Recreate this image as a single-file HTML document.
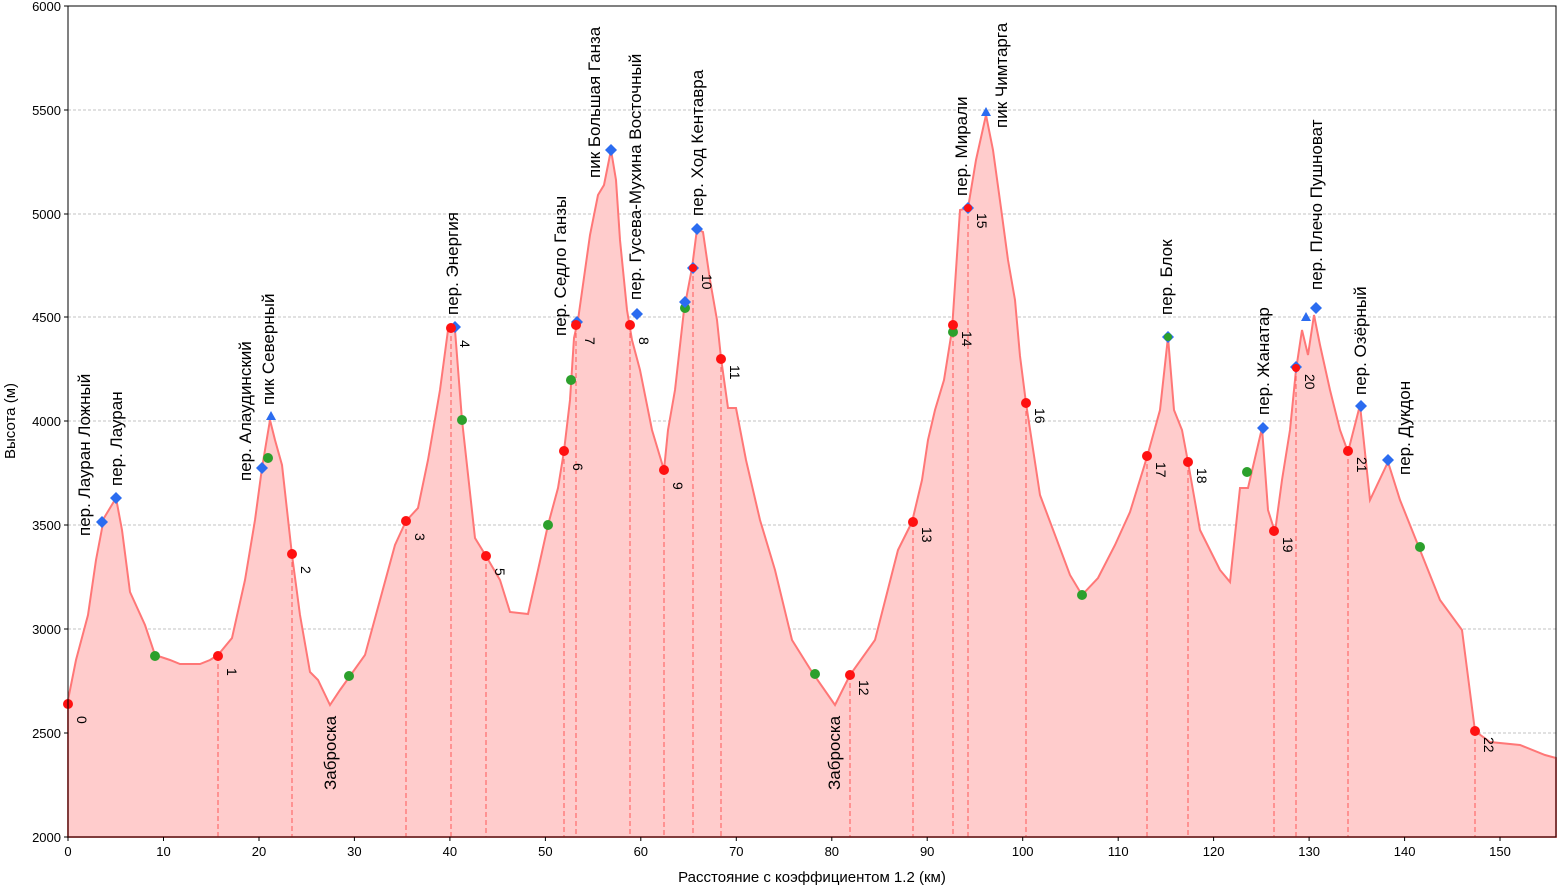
<!DOCTYPE html>
<html><head><meta charset="utf-8"><style>
html,body{margin:0;padding:0;background:#fff;}
svg{display:block;font-family:"Liberation Sans","DejaVu Sans",sans-serif;}
</style></head><body>
<svg width="1558" height="886" viewBox="0 0 1558 886" xmlns="http://www.w3.org/2000/svg">
<rect width="1558" height="886" fill="#fff"/>
<g stroke="#b0b0b0" stroke-width="0.8" stroke-dasharray="3,2">
<line x1="68" x2="1556" y1="733" y2="733"/><line x1="68" x2="1556" y1="629" y2="629"/>
<line x1="68" x2="1556" y1="525" y2="525"/><line x1="68" x2="1556" y1="421" y2="421"/>
<line x1="68" x2="1556" y1="317" y2="317"/><line x1="68" x2="1556" y1="214" y2="214"/>
<line x1="68" x2="1556" y1="110" y2="110"/>
</g>
<path fill="#ffcccc" stroke="#f77" stroke-width="2" d="M68,837 L68,700 L76,660 L88,615 L96,560 L104,518 L116,498 L122,530 L130,592 L145,625 L155,655 L170,660 L180,664 L200,664 L210,660 L218,655 L232,638 L245,580 L255,520 L262,468 L270,420 L275,440 L282,465 L292,555 L300,615 L310,672 L318,680 L330,705 L340,690 L350,676 L365,655 L380,600 L395,545 L406,521 L418,508 L428,460 L440,390 L448,330 L455,330 L462,420 L475,538 L486,556 L500,580 L510,612 L528,614 L538,570 L548,525 L558,488 L564,451 L570,400 L574,338 L578,320 L590,235 L598,195 L604,185 L611,150 L616,180 L620,240 L627,310 L632,340 L640,370 L652,430 L664,470 L668,430 L675,390 L684,310 L692,268 L697,229 L703,232 L710,280 L717,320 L721,358 L728,408 L736,408 L746,460 L760,520 L775,570 L792,640 L812,672 L835,705 L850,675 L875,640 L898,550 L912,522 L922,480 L928,440 L935,410 L944,380 L952,330 L960,210 L968,208 L976,160 L986,115 L993,150 L1001,208 L1008,260 L1015,300 L1020,356 L1026,403 L1040,495 L1070,575 L1082,595 L1098,578 L1115,545 L1130,512 L1147,457 L1160,410 L1168,337 L1174,410 L1182,430 L1188,462 L1200,530 L1220,570 L1230,582 L1240,488 L1248,488 L1255,458 L1262,428 L1268,510 L1275,532 L1282,480 L1290,430 L1296,370 L1302,330 L1308,355 L1314,315 L1320,345 L1330,390 L1340,430 L1348,452 L1360,405 L1370,500 L1388,462 L1400,500 L1420,550 L1440,600 L1462,630 L1475,731 L1490,742 L1520,745 L1545,755 L1556,758 L1556,837 Z"/>
<g stroke="#f55" stroke-width="1.2" stroke-dasharray="5,3" opacity="0.8">
<line x1="218" x2="218" y1="656" y2="837"/><line x1="292" x2="292" y1="554" y2="837"/>
<line x1="406" x2="406" y1="521" y2="837"/><line x1="451" x2="451" y1="328" y2="837"/>
<line x1="486" x2="486" y1="556" y2="837"/><line x1="564" x2="564" y1="451" y2="837"/>
<line x1="576" x2="576" y1="325" y2="837"/><line x1="630" x2="630" y1="325" y2="837"/>
<line x1="664" x2="664" y1="470" y2="837"/><line x1="693" x2="693" y1="268" y2="837"/>
<line x1="721" x2="721" y1="359" y2="837"/><line x1="850" x2="850" y1="675" y2="837"/>
<line x1="913" x2="913" y1="522" y2="837"/><line x1="953" x2="953" y1="325" y2="837"/>
<line x1="968" x2="968" y1="208" y2="837"/><line x1="1026" x2="1026" y1="403" y2="837"/>
<line x1="1147" x2="1147" y1="456" y2="837"/><line x1="1188" x2="1188" y1="462" y2="837"/>
<line x1="1274" x2="1274" y1="531" y2="837"/><line x1="1296" x2="1296" y1="368" y2="837"/>
<line x1="1348" x2="1348" y1="451" y2="837"/><line x1="1475" x2="1475" y1="731" y2="837"/>
</g>
<g fill="#2ca02c">
<circle cx="155" cy="656" r="5"/><circle cx="268" cy="458" r="5"/><circle cx="349" cy="676" r="5"/>
<circle cx="462" cy="420" r="5"/><circle cx="548" cy="525" r="5"/><circle cx="571" cy="380" r="5"/>
<circle cx="685" cy="308" r="5"/><circle cx="815" cy="674" r="5"/><circle cx="953" cy="332" r="5"/>
<circle cx="1082" cy="595" r="5"/><circle cx="1247" cy="472" r="5"/><circle cx="1420" cy="547" r="5"/>
</g>
<g fill="#2b6cf0">
<path d="M102,516 l6,6 -6,6 -6,-6z"/><path d="M116,492 l6,6 -6,6 -6,-6z"/><path d="M262,462 l6,6 -6,6 -6,-6z"/>
<path d="M455,321 l6,6 -6,6 -6,-6z"/><path d="M577,316 l6,6 -6,6 -6,-6z"/><path d="M637,308 l6,6 -6,6 -6,-6z"/>
<path d="M685,296 l6,6 -6,6 -6,-6z"/><path d="M697,223 l6,6 -6,6 -6,-6z"/><path d="M693,262 l6,6 -6,6 -6,-6z"/>
<path d="M611,144 l6,6 -6,6 -6,-6z"/><path d="M968,202 l6,6 -6,6 -6,-6z"/><path d="M1168,331 l6,6 -6,6 -6,-6z"/>
<path d="M1263,422 l6,6 -6,6 -6,-6z"/><path d="M1296,361 l6,6 -6,6 -6,-6z"/><path d="M1316,302 l6,6 -6,6 -6,-6z"/>
<path d="M1361,400 l6,6 -6,6 -6,-6z"/><path d="M1388,454 l6,6 -6,6 -6,-6z"/>
<path d="M271,411 l5,9 -10,0z"/><path d="M986,107 l5,9 -10,0z"/><path d="M1306,312 l5,9 -10,0z"/>
</g>
<g fill="#2ca02c"><circle cx="1168" cy="337" r="4"/></g>
<g fill="#f11">
<circle cx="68" cy="704" r="5"/><circle cx="218" cy="656" r="5"/><circle cx="292" cy="554" r="5"/>
<circle cx="406" cy="521" r="5"/><circle cx="451" cy="328" r="5"/><circle cx="486" cy="556" r="5"/>
<circle cx="564" cy="451" r="5"/><circle cx="576" cy="325" r="5"/><circle cx="630" cy="325" r="5"/>
<circle cx="664" cy="470" r="5"/><circle cx="693" cy="268" r="4"/><circle cx="721" cy="359" r="5"/>
<circle cx="850" cy="675" r="5"/><circle cx="913" cy="522" r="5"/><circle cx="953" cy="325" r="5"/>
<circle cx="968" cy="208" r="4"/><circle cx="1026" cy="403" r="5"/><circle cx="1147" cy="456" r="5"/>
<circle cx="1188" cy="462" r="5"/><circle cx="1274" cy="531" r="5"/><circle cx="1296" cy="368" r="4"/>
<circle cx="1348" cy="451" r="5"/><circle cx="1475" cy="731" r="5"/>
</g>
<g font-size="14" fill="#000">
<text transform="translate(77,716) rotate(90)">0</text>
<text transform="translate(227,668) rotate(90)">1</text>
<text transform="translate(301,566) rotate(90)">2</text>
<text transform="translate(415,533) rotate(90)">3</text>
<text transform="translate(460,340) rotate(90)">4</text>
<text transform="translate(495,568) rotate(90)">5</text>
<text transform="translate(573,463) rotate(90)">6</text>
<text transform="translate(585,337) rotate(90)">7</text>
<text transform="translate(639,337) rotate(90)">8</text>
<text transform="translate(673,482) rotate(90)">9</text>
<text transform="translate(702,274) rotate(90)">10</text>
<text transform="translate(730,365) rotate(90)">11</text>
<text transform="translate(859,680) rotate(90)">12</text>
<text transform="translate(922,527) rotate(90)">13</text>
<text transform="translate(962,331) rotate(90)">14</text>
<text transform="translate(977,213) rotate(90)">15</text>
<text transform="translate(1035,408) rotate(90)">16</text>
<text transform="translate(1156,462) rotate(90)">17</text>
<text transform="translate(1197,468) rotate(90)">18</text>
<text transform="translate(1283,537) rotate(90)">19</text>
<text transform="translate(1305,374) rotate(90)">20</text>
<text transform="translate(1357,457) rotate(90)">21</text>
<text transform="translate(1484,737) rotate(90)">22</text>
</g>
<g font-size="17" fill="#000">
<text transform="translate(90,536) rotate(-90)">пер. Лауран Ложный</text>
<text transform="translate(122,486) rotate(-90)">пер. Лауран</text>
<text transform="translate(251,481) rotate(-90)">пер. Алаудинский</text>
<text transform="translate(274,405) rotate(-90)">пик Северный</text>
<text transform="translate(336,790) rotate(-90)">Заброска</text>
<text transform="translate(458,315) rotate(-90)">пер. Энергия</text>
<text transform="translate(566,336) rotate(-90)">пер. Седло Ганзы</text>
<text transform="translate(600,178) rotate(-90)">пик Большая Ганза</text>
<text transform="translate(641,300) rotate(-90)">пер. Гусева-Мухина Восточный</text>
<text transform="translate(703,216) rotate(-90)">пер. Ход Кентавра</text>
<text transform="translate(840,790) rotate(-90)">Заброска</text>
<text transform="translate(967,196) rotate(-90)">пер. Мирали</text>
<text transform="translate(1007,128) rotate(-90)">пик Чимтарга</text>
<text transform="translate(1172,315) rotate(-90)">пер. Блок</text>
<text transform="translate(1269,415) rotate(-90)">пер. Жанатар</text>
<text transform="translate(1322,290) rotate(-90)">пер. Плечо Пушноват</text>
<text transform="translate(1366,395) rotate(-90)">пер. Озёрный</text>
<text transform="translate(1410,475) rotate(-90)">пер. Дукдон</text>
</g>
<rect x="68" y="6" width="1488" height="831" fill="none" stroke="#000" stroke-width="1"/>
<g stroke="#000" stroke-width="1">
<line x1="68" x2="68" y1="837" y2="841"/><line x1="163.5" x2="163.5" y1="837" y2="841"/><line x1="259" x2="259" y1="837" y2="841"/>
<line x1="354.4" x2="354.4" y1="837" y2="841"/><line x1="449.9" x2="449.9" y1="837" y2="841"/><line x1="545.4" x2="545.4" y1="837" y2="841"/>
<line x1="640.8" x2="640.8" y1="837" y2="841"/><line x1="736.3" x2="736.3" y1="837" y2="841"/><line x1="831.8" x2="831.8" y1="837" y2="841"/>
<line x1="927.2" x2="927.2" y1="837" y2="841"/><line x1="1022.7" x2="1022.7" y1="837" y2="841"/><line x1="1118.2" x2="1118.2" y1="837" y2="841"/>
<line x1="1213.6" x2="1213.6" y1="837" y2="841"/><line x1="1309.1" x2="1309.1" y1="837" y2="841"/><line x1="1404.6" x2="1404.6" y1="837" y2="841"/>
<line x1="1500" x2="1500" y1="837" y2="841"/>
<line x1="64" x2="68" y1="837" y2="837"/><line x1="64" x2="68" y1="733" y2="733"/><line x1="64" x2="68" y1="629" y2="629"/>
<line x1="64" x2="68" y1="525" y2="525"/><line x1="64" x2="68" y1="421" y2="421"/><line x1="64" x2="68" y1="317" y2="317"/>
<line x1="64" x2="68" y1="214" y2="214"/><line x1="64" x2="68" y1="110" y2="110"/><line x1="64" x2="68" y1="6" y2="6"/>
</g>
<g font-size="13" text-anchor="middle" fill="#000">
<text x="68" y="856">0</text><text x="163.5" y="856">10</text><text x="259" y="856">20</text><text x="354.4" y="856">30</text>
<text x="449.9" y="856">40</text><text x="545.4" y="856">50</text><text x="640.8" y="856">60</text><text x="736.3" y="856">70</text>
<text x="831.8" y="856">80</text><text x="927.2" y="856">90</text><text x="1022.7" y="856">100</text><text x="1118.2" y="856">110</text>
<text x="1213.6" y="856">120</text><text x="1309.1" y="856">130</text><text x="1404.6" y="856">140</text><text x="1500" y="856">150</text>
</g>
<g font-size="13" text-anchor="end" fill="#000">
<text x="61" y="842">2000</text><text x="61" y="738">2500</text><text x="61" y="634">3000</text><text x="61" y="530">3500</text>
<text x="61" y="426">4000</text><text x="61" y="322">4500</text><text x="61" y="219">5000</text><text x="61" y="115">5500</text><text x="61" y="11">6000</text>
</g>
<text x="812" y="882" font-size="15" text-anchor="middle">Расстояние с коэффициентом 1.2 (км)</text>
<text transform="translate(15,421) rotate(-90)" font-size="15" text-anchor="middle">Высота (м)</text>
</svg>
</body></html>
